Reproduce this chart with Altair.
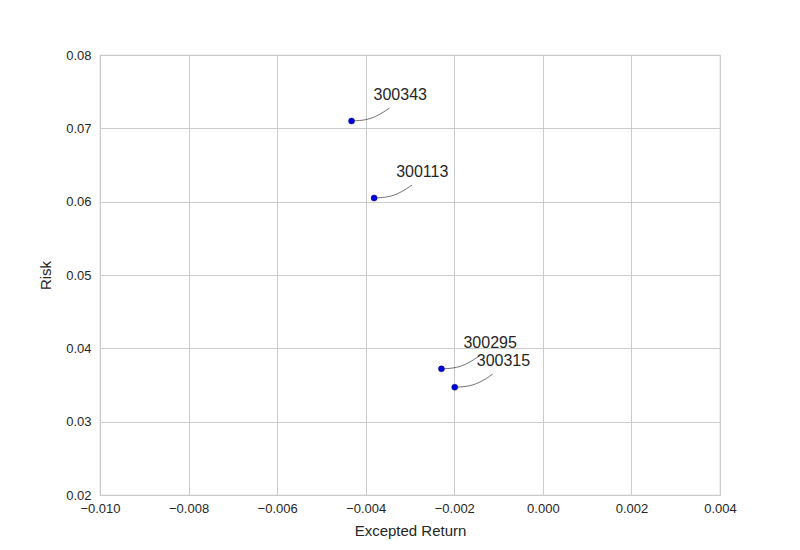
import altair as alt
import pandas as pd

codes = ["300343", "300113", "300295", "300315"]
returns = [-0.00432, -0.00381, -0.00229, -0.00199]
risks = [0.0710, 0.0605, 0.0372, 0.0347]

x_domain = [-0.010, 0.004]
y_domain = [0.02, 0.08]
x_ticks = [-0.010, -0.008, -0.006, -0.004, -0.002, 0.000, 0.002, 0.004]
y_ticks = [0.02, 0.03, 0.04, 0.05, 0.06, 0.07, 0.08]

W, H = 620, 440
FONT = "Liberation Sans"

pts = pd.DataFrame({"code": codes, "ret": returns, "risk": risks})

# connector curves: pixel offsets from point (start, control, end), converted to data units
px_x = (x_domain[1] - x_domain[0]) / W
px_y = (y_domain[1] - y_domain[0]) / H
curve_offsets = [(0, 0), (20, -1), (38, -13)]
rows = []
for c, r, k in zip(codes, returns, risks):
    for i, (dx, dy) in enumerate(curve_offsets):
        rows.append({"code": c, "i": i, "ret": r + dx * px_x, "risk": k - dy * px_y})
conn = pd.DataFrame(rows)

xs = alt.Scale(domain=x_domain, nice=False, zero=False)
ys = alt.Scale(domain=y_domain, nice=False, zero=False)

x_enc = alt.X("ret:Q", scale=xs, title="Excepted Return",
              axis=alt.Axis(values=x_ticks, format=".3f", grid=True, ticks=False,
                            domain=False, labelFlush=False, labelPadding=7, titlePadding=8))
y_enc = alt.Y("risk:Q", scale=ys, title="Risk",
              axis=alt.Axis(values=y_ticks, format=".2f", grid=True, ticks=False,
                            domain=False, labelFlush=False, labelPadding=9, titlePadding=12))

points = alt.Chart(pts).mark_circle(size=36, color="#0000dd", opacity=1,
                                    stroke="#000066", strokeWidth=0.5).encode(x=x_enc, y=y_enc)

lines = alt.Chart(conn).mark_line(interpolate="basis", color="#333333", strokeWidth=0.7).encode(
    x=alt.X("ret:Q", scale=xs), y=alt.Y("risk:Q", scale=ys), detail="code:N", order="i:Q")

labels = alt.Chart(pts).mark_text(align="left", baseline="middle", dx=22, dy=-26,
                                  fontSize=16, font=FONT, color="#262626").encode(
    x=alt.X("ret:Q", scale=xs), y=alt.Y("risk:Q", scale=ys), text="code:N")

chart = alt.layer(lines, points, labels).properties(
    width=W, height=H,
    autosize=alt.AutoSizeParams(type="none"),
    padding={"left": 92, "top": 47, "right": 72, "bottom": 47},
).configure(background="white").configure_view(
    stroke="#c8c8c8", strokeWidth=1.2
).configure_axis(
    gridColor="#cbcbcb", gridWidth=1, labelFont=FONT, titleFont=FONT,
    labelFontSize=13, titleFontSize=15, labelColor="#262626", titleColor="#262626",
    titleFontWeight="normal"
)

chart.save("out.html", embed_options={"renderer": "svg", "actions": False})
